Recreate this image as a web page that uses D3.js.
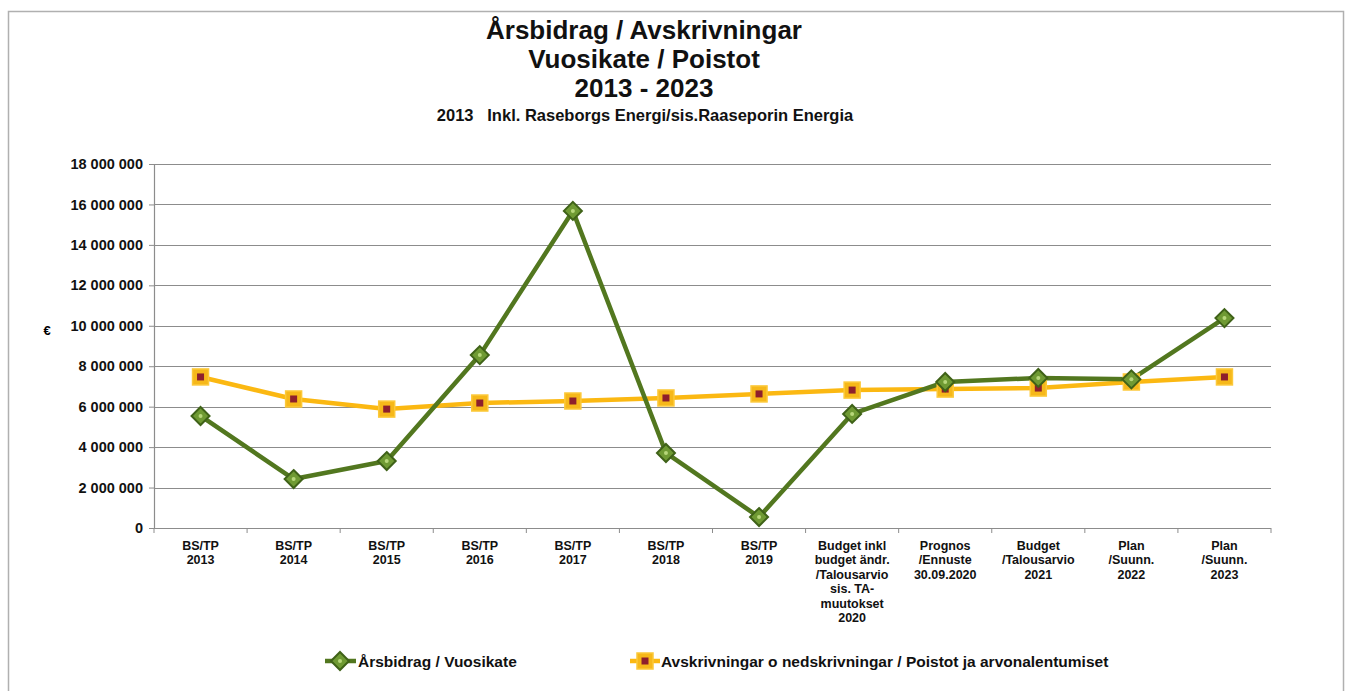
<!DOCTYPE html>
<html>
<head>
<meta charset="utf-8">
<script src="https://cdnjs.cloudflare.com/ajax/libs/d3/7.8.5/d3.min.js"></script>
<style>
  body { margin: 0; background: #fff; }
  text { font-family: "Liberation Sans", Arial, sans-serif; }
</style>
</head>
<body>
<svg id="chart" width="1349" height="691"></svg>
<script>

  var categories = [
    ['BS/TP', '2013'],
    ['BS/TP', '2014'],
    ['BS/TP', '2015'],
    ['BS/TP', '2016'],
    ['BS/TP', '2017'],
    ['BS/TP', '2018'],
    ['BS/TP', '2019'],
    ['Budget inkl', 'budget ändr.', '/Talousarvio', 'sis. TA-', 'muutokset', '2020'],
    ['Prognos', '/Ennuste', '30.09.2020'],
    ['Budget', '/Talousarvio', '2021'],
    ['Plan', '/Suunn.', '2022'],
    ['Plan', '/Suunn.', '2023']
  ];

  var arsbidrag = [5540000, 2420000, 3310000, 8550000, 15680000, 3710000, 540000,
                   5640000, 7220000, 7420000, 7350000, 10380000];
  var avskrivningar = [7470000, 6380000, 5880000, 6180000, 6280000, 6430000, 6630000,
                       6820000, 6870000, 6920000, 7220000, 7470000];

  var yTicks = [0, 2000000, 4000000, 6000000, 8000000, 10000000, 12000000, 14000000, 16000000, 18000000];

  var titleLines = ['Årsbidrag / Avskrivningar', 'Vuosikate / Poistot', '2013 - 2023'];
  var subtitle = '2013   Inkl. Raseborgs Energi/sis.Raaseporin Energia';
  var seriesNames = ['Årsbidrag / Vuosikate', 'Avskrivningar o nedskrivningar / Poistot ja arvonalentumiset'];

  var svg = d3.select('#chart');

  var plotLeft = 154, plotRight = 1271, plotTop = 164, plotBottom = 528;

  // outer frame
  svg.append('rect')
    .attr('x', 8.5).attr('y', 11.5)
    .attr('width', 1335).attr('height', 700)
    .attr('fill', 'none')
    .attr('stroke', '#b0b0b0')
    .attr('stroke-width', 1.5);

  var x = d3.scaleBand()
    .domain(d3.range(categories.length))
    .range([plotLeft, plotRight]);

  var y = d3.scaleLinear()
    .domain([0, 18000000])
    .range([plotBottom, plotTop]);

  var fmt = function (d) {
    return d3.format(',')(d).replace(/,/g, ' ');
  };

  // gridlines
  svg.append('g')
    .selectAll('line')
    .data(yTicks.filter(function (d) { return d > 0; }))
    .enter()
    .append('line')
      .attr('x1', plotLeft).attr('x2', plotRight)
      .attr('y1', function (d) { return Math.round(y(d)) + 0.5; })
      .attr('y2', function (d) { return Math.round(y(d)) + 0.5; })
      .attr('stroke', '#8c8c8c')
      .attr('stroke-width', 1.2);

  // y axis
  var yAxis = svg.append('g')
    .attr('transform', 'translate(' + plotLeft + ',0)')
    .call(d3.axisLeft(y).tickValues(yTicks).tickFormat(fmt).tickSize(5).tickPadding(6));
  yAxis.select('.domain').attr('stroke', '#8c8c8c').attr('stroke-width', 1.2);
  yAxis.selectAll('.tick line').attr('stroke', '#8c8c8c');
  yAxis.selectAll('.tick text')
    .attr('font-size', 14.5)
    .attr('font-weight', 'bold')
    .attr('font-family', '"Liberation Sans", Arial, sans-serif')
    .attr('fill', '#111');

  // x axis
  var xAxis = svg.append('g')
    .attr('transform', 'translate(0,' + plotBottom + ')');
  xAxis.append('line')
    .attr('x1', plotLeft).attr('x2', plotRight)
    .attr('y1', 0.5).attr('y2', 0.5)
    .attr('stroke', '#8c8c8c').attr('stroke-width', 1.2);
  xAxis.selectAll('.sep')
    .data(d3.range(categories.length + 1))
    .enter()
    .append('line')
      .attr('x1', function (i) { return i < categories.length ? x(i) : plotRight; })
      .attr('x2', function (i) { return i < categories.length ? x(i) : plotRight; })
      .attr('y1', 0).attr('y2', 5)
      .attr('stroke', '#8c8c8c');

  var labels = xAxis.selectAll('text.cat')
    .data(categories)
    .enter()
    .append('text')
      .attr('class', 'cat')
      .attr('text-anchor', 'middle')
      .attr('font-size', 12.5)
      .attr('font-weight', 'bold')
      .attr('fill', '#111');
  labels.each(function (d, i) {
    d3.select(this).selectAll('tspan')
      .data(d)
      .enter()
      .append('tspan')
        .attr('x', x(i) + x.bandwidth() / 2)
        .attr('y', function (t, j) { return 22 + j * 14.4; })
        .text(function (t) { return t; });
  });

  // euro label
  svg.append('text')
    .attr('x', 47).attr('y', 335)
    .attr('text-anchor', 'middle')
    .attr('font-size', 13)
    .attr('font-weight', 'bold')
    .text('€');

  // title
  svg.append('g').selectAll('text')
    .data(titleLines)
    .enter()
    .append('text')
      .attr('x', 644)
      .attr('y', function (d, i) { return 39 + i * 29; })
      .attr('text-anchor', 'middle')
      .attr('font-size', 26)
      .attr('font-weight', 'bold')
      .attr('fill', '#111')
      .text(function (d) { return d; });

  svg.append('text')
    .attr('x', 645).attr('y', 121)
    .attr('text-anchor', 'middle')
    .attr('font-size', 16.5)
    .attr('font-weight', 'bold')
    .attr('fill', '#111')
    .style('white-space', 'pre')
    .text(subtitle);

  var cx = function (d, i) { return x(i) + x.bandwidth() / 2; };

  var line = d3.line()
    .x(function (d, i) { return x(i) + x.bandwidth() / 2; })
    .y(function (d) { return y(d); });

  // orange series
  svg.append('path')
    .datum(avskrivningar)
    .attr('d', line)
    .attr('fill', 'none')
    .attr('stroke', '#fbb812')
    .attr('stroke-width', 4.5)
    .attr('stroke-linejoin', 'round');

  // green series
  svg.append('path')
    .datum(arsbidrag)
    .attr('d', line)
    .attr('fill', 'none')
    .attr('stroke', '#52771f')
    .attr('stroke-width', 4.5)
    .attr('stroke-linejoin', 'round');

  function squareMarker(g, px, py) {
    g.append('rect')
      .attr('x', px - 8).attr('y', py - 8)
      .attr('width', 16).attr('height', 16)
      .attr('fill', '#f6b81a')
      .attr('stroke', '#fcc93a')
      .attr('stroke-width', 1.5);
    g.append('rect')
      .attr('x', px - 3.5).attr('y', py - 3.5)
      .attr('width', 7).attr('height', 7)
      .attr('fill', '#8e1f2c');
  }

  function diamondMarker(g, px, py) {
    g.append('path')
      .attr('d', 'M' + px + ',' + (py - 9) + 'L' + (px + 9) + ',' + py + 'L' + px + ',' + (py + 9) + 'L' + (px - 9) + ',' + py + 'Z')
      .attr('fill', '#6f9a33')
      .attr('stroke', '#3f6218')
      .attr('stroke-width', 2);
    g.append('circle')
      .attr('cx', px).attr('cy', py).attr('r', 2)
      .attr('fill', '#b7d77a');
  }

  var mO = svg.append('g');
  avskrivningar.forEach(function (d, i) { squareMarker(mO, cx(d, i), y(d)); });
  var mG = svg.append('g');
  arsbidrag.forEach(function (d, i) { diamondMarker(mG, cx(d, i), y(d)); });

  // legend
  var leg = svg.append('g');
  leg.append('line')
    .attr('x1', 325).attr('x2', 356).attr('y1', 661).attr('y2', 661)
    .attr('stroke', '#52771f').attr('stroke-width', 4.5);
  diamondMarker(leg, 340, 661);
  leg.append('text')
    .attr('x', 358).attr('y', 667)
    .attr('font-size', 15.5).attr('font-weight', 'bold').attr('fill', '#111')
    .text(seriesNames[0]);

  leg.append('line')
    .attr('x1', 630).attr('x2', 660).attr('y1', 661).attr('y2', 661)
    .attr('stroke', '#fbb812').attr('stroke-width', 4.5);
  squareMarker(leg, 645, 661);
  leg.append('text')
    .attr('x', 661).attr('y', 667)
    .attr('font-size', 15.5).attr('font-weight', 'bold').attr('fill', '#111')
    .text(seriesNames[1]);

</script>
</body>
</html>
